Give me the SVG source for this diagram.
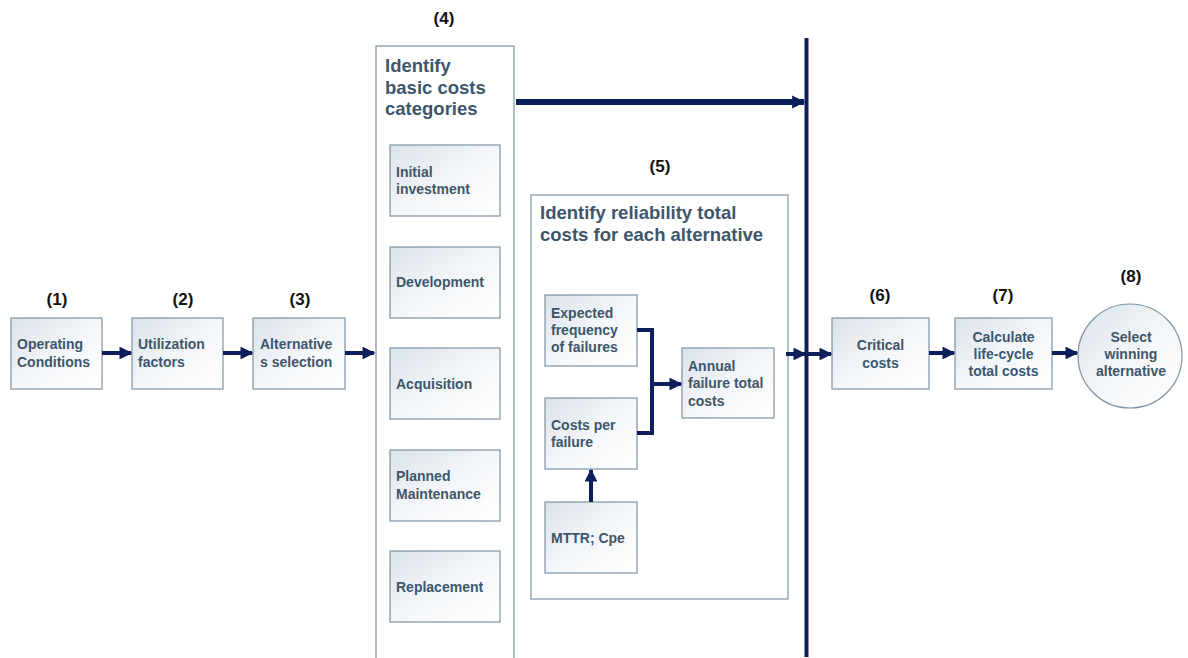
<svg xmlns="http://www.w3.org/2000/svg" width="1188" height="658" viewBox="0 0 1188 658">
<defs>
<linearGradient id="g" x1="0" y1="0" x2="1" y2="1">
<stop offset="0" stop-color="#dbe2ea"/>
<stop offset="0.5" stop-color="#f3f6f9"/>
<stop offset="1" stop-color="#ffffff"/>
</linearGradient>
<marker id="ah" viewBox="0 0 10 10" refX="9" refY="5" markerWidth="3.2" markerHeight="3.2" orient="auto" markerUnits="strokeWidth">
<path d="M0,0 L10,5 L0,10 z" fill="#0c1f5b"/>
</marker>
<marker id="ahs" viewBox="0 0 10 10" refX="9" refY="5" markerWidth="2.2" markerHeight="2.2" orient="auto" markerUnits="strokeWidth">
<path d="M0,0 L10,5 L0,10 z" fill="#0c1f5b"/>
</marker>
</defs>
<style>
.box{fill:url(#g);stroke:#7d93a5;stroke-width:1.2}
.big{fill:#ffffff;stroke:#7d93a5;stroke-width:1.2}
.t{font-family:"Liberation Sans",Arial,sans-serif;font-weight:bold;font-size:14px;fill:#3e566b}
.tt{font-family:"Liberation Sans",Arial,sans-serif;font-weight:bold;font-size:18.5px;fill:#3e566b}
.n{font-family:"Liberation Sans",Arial,sans-serif;font-weight:bold;font-size:17px;fill:#111111;text-anchor:middle}
.c{text-anchor:middle}
.ln{fill:none;stroke:#0c1f5b;stroke-width:4}
</style>
<rect width="1188" height="658" fill="#ffffff"/>

<g id="labels">
<text class="n" x="57" y="305">(1)</text>
<text class="n" x="183" y="305">(2)</text>
<text class="n" x="300" y="305">(3)</text>
<text class="n" x="444" y="24">(4)</text>
<text class="n" x="660" y="172">(5)</text>
<text class="n" x="880" y="301">(6)</text>
<text class="n" x="1003" y="301">(7)</text>
<text class="n" x="1131" y="282">(8)</text>
</g>

<g id="n1">
<rect class="box" x="11" y="318" width="91" height="71"/>
<text class="t" x="17" y="349">Operating</text>
<text class="t" x="17" y="367">Conditions</text>
</g>
<g id="n2">
<rect class="box" x="132" y="318" width="91" height="71"/>
<text class="t" x="138" y="349">Utilization</text>
<text class="t" x="138" y="367">factors</text>
</g>
<g id="n3">
<rect class="box" x="253" y="318" width="92" height="71"/>
<text class="t" x="260" y="349">Alternative</text>
<text class="t" x="260" y="367">s selection</text>
</g>

<g id="n4">
<rect class="big" x="376" y="46" width="138" height="630"/>
<text class="tt" x="385" y="72">Identify</text>
<text class="tt" x="385" y="94">basic costs</text>
<text class="tt" x="385" y="115">categories</text>
</g>
<g id="n4a">
<rect class="box" x="390" y="145" width="110" height="71"/>
<text class="t" x="396" y="177">Initial</text>
<text class="t" x="396" y="194">investment</text>
</g>
<g id="n4b">
<rect class="box" x="390" y="247" width="110" height="71"/>
<text class="t" x="396" y="287">Development</text>
</g>
<g id="n4c">
<rect class="box" x="390" y="348" width="110" height="71"/>
<text class="t" x="396" y="389">Acquisition</text>
</g>
<g id="n4d">
<rect class="box" x="390" y="450" width="110" height="71"/>
<text class="t" x="396" y="481">Planned</text>
<text class="t" x="396" y="499">Maintenance</text>
</g>
<g id="n4e">
<rect class="box" x="390" y="551" width="110" height="71"/>
<text class="t" x="396" y="592">Replacement</text>
</g>

<g id="n5">
<rect class="big" x="531" y="195" width="257" height="404"/>
<text class="tt" x="540" y="219">Identify reliability total</text>
<text class="tt" x="540" y="241">costs for each alternative</text>
</g>
<g id="n5a">
<rect class="box" x="545" y="295" width="92" height="71"/>
<text class="t" x="551" y="318">Expected</text>
<text class="t" x="551" y="335">frequency</text>
<text class="t" x="551" y="352">of failures</text>
</g>
<g id="n5b">
<rect class="box" x="545" y="398" width="92" height="71"/>
<text class="t" x="551" y="430">Costs per</text>
<text class="t" x="551" y="447">failure</text>
</g>
<g id="n5c">
<rect class="box" x="545" y="502" width="92" height="71"/>
<text class="t" x="551" y="543">MTTR; Cpe</text>
</g>
<g id="n5d">
<rect class="box" x="682" y="348" width="92" height="70"/>
<text class="t" x="688" y="371">Annual</text>
<text class="t" x="688" y="388">failure total</text>
<text class="t" x="688" y="406">costs</text>
</g>

<g id="n6">
<rect class="box" x="832" y="318" width="97" height="71"/>
<text class="t c" x="880.5" y="350">Critical</text>
<text class="t c" x="880.5" y="368">costs</text>
</g>
<g id="n7">
<rect class="box" x="955" y="318" width="97" height="71"/>
<text class="t c" x="1003.5" y="342">Calculate</text>
<text class="t c" x="1003.5" y="359">life-cycle</text>
<text class="t c" x="1003.5" y="376">total costs</text>
</g>
<g id="n8">
<circle class="box" cx="1130" cy="356" r="52"/>
<text class="t c" x="1131" y="342">Select</text>
<text class="t c" x="1131" y="359">winning</text>
<text class="t c" x="1131" y="376">alternative</text>
</g>

<g id="connectors">
<line x1="806.5" y1="38" x2="806.5" y2="657" stroke="#0c1f5b" stroke-width="4"/>
<line class="ln" x1="102" y1="353" x2="131" y2="353" marker-end="url(#ah)"/>
<line class="ln" x1="223" y1="353" x2="252" y2="353" marker-end="url(#ah)"/>
<line class="ln" x1="345" y1="353" x2="374" y2="353" marker-end="url(#ah)"/>
<line x1="516" y1="102" x2="804" y2="102" stroke="#0c1f5b" stroke-width="6" marker-end="url(#ahs)"/>
<polyline class="ln" points="637,330 652,330 652,433 637,433" stroke-width="3.5"/>
<line class="ln" x1="652" y1="384" x2="681" y2="384" marker-end="url(#ah)"/>
<line class="ln" x1="591" y1="502" x2="591" y2="470" marker-end="url(#ah)"/>
<line class="ln" x1="786" y1="354" x2="805" y2="354" marker-end="url(#ah)"/>
<line class="ln" x1="807" y1="354" x2="831" y2="354" marker-end="url(#ah)"/>
<line class="ln" x1="929" y1="353" x2="954" y2="353" marker-end="url(#ah)"/>
<line class="ln" x1="1052" y1="353" x2="1077" y2="353" marker-end="url(#ah)"/>
</g>
</svg>
